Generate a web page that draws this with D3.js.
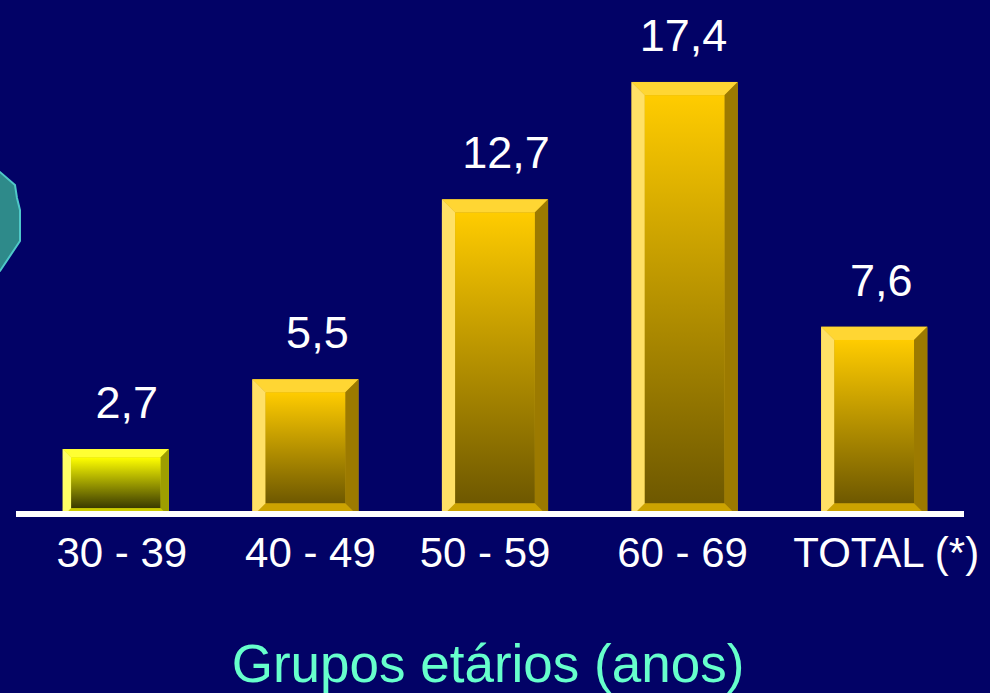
<!DOCTYPE html>
<html>
<head>
<meta charset="utf-8">
<script src="https://cdn.jsdelivr.net/npm/d3@7"></script>
<style>
  html, body { margin: 0; padding: 0; background: #020266; }
  svg { display: block; }
  text { font-family: "Liberation Sans", Arial, Helvetica, sans-serif; }
</style>
</head>
<body>
<svg id="chart" width="990" height="693"></svg>
<script>
// Age groups and rates
const categories = ["30 - 39", "40 - 49", "50 - 59", "60 - 69", "TOTAL (*)"];
const values = [2.7, 5.5, 12.7, 17.4, 7.6];
const valueLabels = ["2,7", "5,5", "12,7", "17,4", "7,6"];
const axisTitle = "Grupos etários (anos)";
// First bar uses the bright yellow style, the rest use gold
const barStyles = ["yellow", "gold", "gold", "gold", "gold"];

const W = 990, H = 693;
const svg = d3.select("#chart");

svg.append("rect").attr("width", W).attr("height", H).attr("fill", "#020266");

const x = d3.scaleBand().domain(categories).range([21, 969]).paddingInner(0.44).paddingOuter(0.22);
const y = d3.scaleLinear().domain([0, 20]).range([516.5, 17]);

// Hand-placed text boxes sit a little off the bar centres
const labelNudge = [11, 12, 11, -1, 7];
const tickNudge = [6, 5, -10, -2, 12];

// Colour palettes for the bevelled bars
const palettes = {
  gold:   { top: "#FFD633", left: "#FFE066", right: "#9C7A00", bottom: "#CCA300", faceTop: "#FFCC00", faceBottom: "#6E5800", edge: "#C9A21C" },
  yellow: { top: "#FFFF33", left: "#FFFF66", right: "#9E9E00", bottom: "#CCCC00", faceTop: "#FFFF00", faceBottom: "#3A3A00", edge: "#C8C81C" }
};

const defs = svg.append("defs");
Object.entries(palettes).forEach(([k, p]) => {
  const g = defs.append("linearGradient").attr("id", "face-" + k)
    .attr("x1", 0).attr("y1", 0).attr("x2", 0).attr("y2", 1);
  g.append("stop").attr("offset", "0%").attr("stop-color", p.faceTop);
  g.append("stop").attr("offset", "100%").attr("stop-color", p.faceBottom);
});

// Decorative teal shape on the left edge
svg.append("polygon")
  .attr("points", [[-10, 168], [0, 172], [15, 185], [17, 198], [20, 210], [20, 241], [0, 271], [-10, 275]].map(p => p.join(",")).join(" "))
  .attr("fill", "#2E8A8A")
  .attr("stroke", "#4FC8C8")
  .attr("stroke-width", 2);

const bars = svg.append("g");
categories.forEach((c, i) => {
  const p = palettes[barStyles[i]];
  const x0 = x(c), w = x.bandwidth();
  const y0 = y(values[i]), y1 = y(0);
  const h = y1 - y0;
  const b = Math.min(w, h) * 0.125;
  const g = bars.append("g");
  const pt = arr => arr.map(q => q.join(",")).join(" ");
  const x1 = x0 + w;
  g.append("rect").attr("x", x0).attr("y", y0).attr("width", w).attr("height", h).attr("fill", p.edge);
  // top bevel
  g.append("polygon").attr("points", pt([[x0, y0], [x1, y0], [x1 - b, y0 + b], [x0 + b, y0 + b]])).attr("fill", p.top);
  // bottom bevel
  g.append("polygon").attr("points", pt([[x0, y1], [x1, y1], [x1 - b, y1 - b], [x0 + b, y1 - b]])).attr("fill", p.bottom);
  // left bevel
  g.append("polygon").attr("points", pt([[x0, y0], [x0 + b, y0 + b], [x0 + b, y1 - b], [x0, y1]])).attr("fill", p.left);
  // right bevel
  g.append("polygon").attr("points", pt([[x1, y0], [x1 - b, y0 + b], [x1 - b, y1 - b], [x1, y1]])).attr("fill", p.right);
  // face
  g.append("rect").attr("x", x0 + b).attr("y", y0 + b).attr("width", w - 2 * b).attr("height", h - 2 * b)
    .attr("fill", `url(#face-${barStyles[i]})`);
});

// Baseline
svg.append("rect")
  .attr("x", 16).attr("y", 511).attr("width", 948).attr("height", 6)
  .attr("fill", "#FFFFFF");

// Value labels above bars
svg.append("g").selectAll("text").data(categories).join("text")
  .attr("x", (c, i) => x(c) + x.bandwidth() / 2 + labelNudge[i])
  .attr("y", (c, i) => y(values[i]) - 31)
  .attr("text-anchor", "middle")
  .attr("font-size", 45)
  .attr("fill", "#FFFFFF")
  .text((c, i) => valueLabels[i]);

// Category axis labels
const xAxis = d3.axisBottom(x).tickSize(0).tickPadding(0);
const ax = svg.append("g").attr("transform", "translate(0,567)").call(xAxis);
ax.select(".domain").remove();
ax.selectAll("text")
  .attr("dy", 0)
  .attr("y", 0)
  .attr("x", (c, i) => tickNudge[i])
  .attr("font-size", 42)
  .attr("fill", "#FFFFFF")
  .style("font-family", "'Liberation Sans', Arial, sans-serif");

// Axis title
svg.append("text")
  .attr("x", 488).attr("y", 682)
  .attr("text-anchor", "middle")
  .attr("font-size", 53)
  .attr("fill", "#66FFCC")
  .text(axisTitle);
</script>
</body>
</html>
